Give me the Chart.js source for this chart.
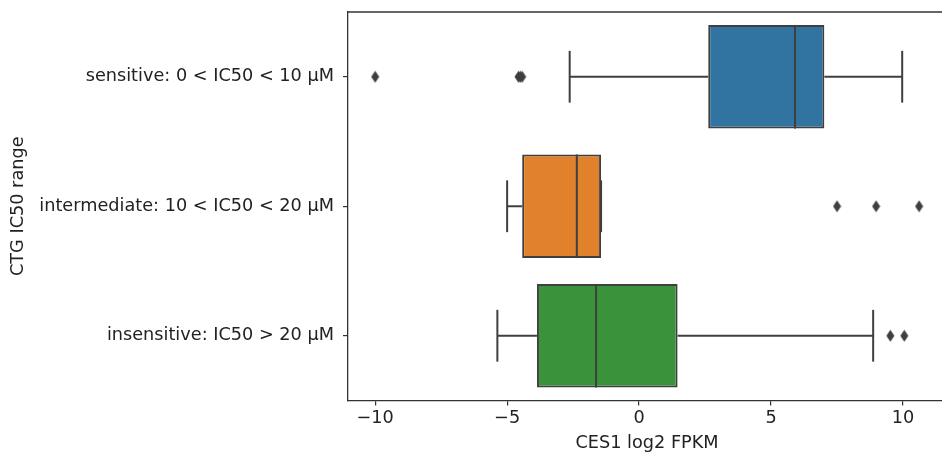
<!DOCTYPE html>
<html>
<head>
<meta charset="utf-8">
<title>CES1 by CTG IC50 range</title>
<script src="https://cdn.jsdelivr.net/npm/chart.js@4"></script>
<style>
  html, body { margin: 0; padding: 0; background: #fff; overflow: hidden; }
  #wrap { width: 942px; height: 456px; overflow: hidden; position: relative; }
  #boxChart { position: absolute; left: 0; top: 0; }
</style>
</head>
<body>
<div id="wrap"><canvas id="boxChart" width="970" height="456"></canvas></div>
<script>
// box plot summary
const categories = ['sensitive: 0 < IC50 < 10 μM', 'intermediate: 10 < IC50 < 20 μM', 'insensitive: IC50 > 20 μM'];
const q1 = [2.62, -4.43, -3.87];
const median = [5.91, -2.36, -1.63];
const q3 = [7.02, -1.44, 1.46];
const whiskerLow = [-2.63, -5.0, -5.37];
const whiskerHigh = [9.97, -1.44, 8.87];
const outliers = [[-10.0, -4.57, -4.5, -4.43], [7.5, 8.98, 10.61], [9.52, 10.05]];
const xTicks = [-10, -5, 0, 5, 10];

const boxColors = ['#3274a1', '#e1812c', '#3a923a'];
const lineColor = '#3f3f3f';
const textColor = '#222';

document.addEventListener('DOMContentLoaded', function() {
    const ctx = document.getElementById('boxChart').getContext('2d');

    // seaborn-like thin diamond marker
    const diamond = document.createElement('canvas');
    diamond.width = 9;
    diamond.height = 13;
    const dctx = diamond.getContext('2d');
    dctx.fillStyle = lineColor;
    dctx.beginPath();
    dctx.moveTo(4.5, 0.5);
    dctx.lineTo(8.5, 6.5);
    dctx.lineTo(4.5, 12.5);
    dctx.lineTo(0.5, 6.5);
    dctx.closePath();
    dctx.fill();

    const outlierPoints = [];
    outliers.forEach(function(list, i) {
        list.forEach(function(v) {
            outlierPoints.push({ x: v, y: categories[i] });
        });
    });

    const whiskerPlugin = {
        id: 'whiskers',
        afterDatasetsDraw(chart) {
            const c = chart.ctx;
            const xs = chart.scales.x;
            const ys = chart.scales.y;
            const bars = chart.getDatasetMeta(0).data;
            const area = chart.chartArea;
            c.save();
            c.strokeStyle = lineColor;
            c.lineWidth = 2;
            function seg(x1, y1, x2, y2) {
                c.beginPath();
                c.moveTo(x1, y1);
                c.lineTo(x2, y2);
                c.stroke();
            }
            categories.forEach(function(cat, i) {
                const yc = ys.getPixelForValue(i);
                const h = bars[i].height;
                seg(xs.getPixelForValue(whiskerLow[i]), yc, xs.getPixelForValue(q1[i]), yc);
                seg(xs.getPixelForValue(q3[i]), yc, xs.getPixelForValue(whiskerHigh[i]), yc);
                seg(xs.getPixelForValue(whiskerLow[i]), yc - h / 4, xs.getPixelForValue(whiskerLow[i]), yc + h / 4);
                seg(xs.getPixelForValue(whiskerHigh[i]), yc - h / 4, xs.getPixelForValue(whiskerHigh[i]), yc + h / 4);
                seg(xs.getPixelForValue(median[i]), yc - h / 2, xs.getPixelForValue(median[i]), yc + h / 2);
            });
            // top spine (the right one falls outside the picture)
            c.strokeStyle = '#333';
            c.lineWidth = 1.3;
            seg(area.left, area.top, area.right, area.top);
            c.restore();
        }
    };

    new Chart(ctx, {
        type: 'bar',
        data: {
            labels: categories,
            datasets: [{
                label: 'box',
                data: categories.map(function(c, i) { return [q1[i], q3[i]]; }),
                backgroundColor: boxColors,
                borderColor: lineColor,
                borderWidth: 2,
                borderSkipped: false,
                barPercentage: 0.8,
                categoryPercentage: 1.0
            }, {
                type: 'scatter',
                label: 'outliers',
                data: outlierPoints,
                pointStyle: diamond,
                pointRadius: 5,
                hoverRadius: 5,
                backgroundColor: lineColor,
                borderColor: lineColor
            }]
        },
        options: {
            responsive: false,
            animation: false,
            indexAxis: 'y',
            layout: { autoPadding: false, padding: { top: 12, right: 24, bottom: 0, left: 0 } },
            plugins: {
                legend: { display: false },
                tooltip: { enabled: false }
            },
            scales: {
                x: {
                    type: 'linear',
                    min: -11.03,
                    max: 11.63,
                    afterBuildTicks: function(scale) {
                        scale.ticks = xTicks.map(function(v) { return { value: v }; });
                    },
                    afterFit: function(scale) {
                        scale.paddingLeft = 0;
                        scale.paddingRight = 0;
                    },
                    ticks: {
                        color: textColor,
                        padding: 2,
                        font: { family: 'DejaVu Sans', size: 17.7 },
                        callback: function(v) { return String(v).replace('-', '\u2212'); }
                    },
                    grid: { drawOnChartArea: false, drawTicks: true, tickLength: 5, color: '#333', lineWidth: 1.2 },
                    border: { display: true, color: '#333', width: 1.3 },
                    title: {
                        display: true,
                        text: 'CES1 log2 FPKM',
                        color: textColor,
                        padding: { top: 2, bottom: 2 },
                        font: { family: 'DejaVu Sans', size: 17.7 }
                    }
                },
                y: {
                    type: 'category',
                    offset: true,
                    afterFit: function(scale) {
                        scale.width = 348;
                        scale.paddingTop = 0;
                        scale.paddingBottom = 0;
                    },
                    ticks: {
                        color: textColor,
                        padding: 9,
                        font: { family: 'DejaVu Sans', size: 17.7 }
                    },
                    grid: { drawOnChartArea: false, drawTicks: true, tickLength: 5, color: '#333', lineWidth: 1.2, offset: false },
                    border: { display: true, color: '#333', width: 1.3 },
                    title: {
                        display: true,
                        text: 'CTG IC50 range',
                        color: textColor,
                        padding: { top: 8, bottom: 0 },
                        font: { family: 'DejaVu Sans', size: 17.7 }
                    }
                }
            }
        },
        plugins: [whiskerPlugin]
    });
});
</script>
</body>
</html>
